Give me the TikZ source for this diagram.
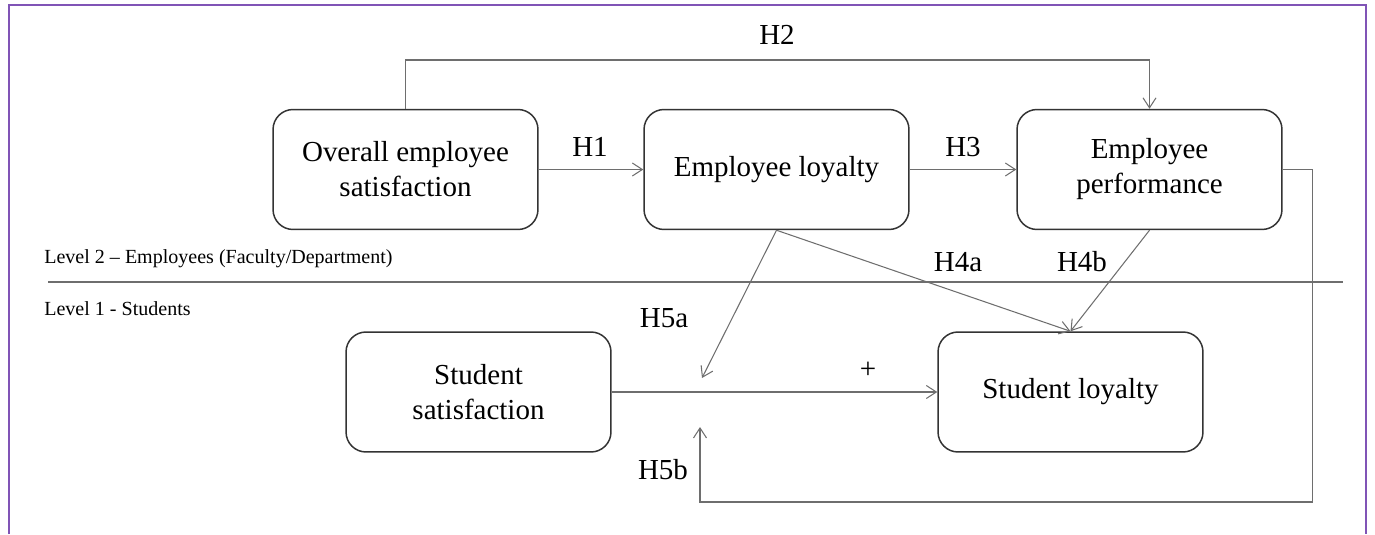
\documentclass[tikz,border=0pt]{standalone}
\usepackage{fontspec}
\setmainfont{Liberation Serif}
\usetikzlibrary{arrows.meta}

\definecolor{framepurple}{RGB}{128,84,182}
\definecolor{linegray}{RGB}{110,110,110}

\begin{document}
\begin{tikzpicture}[x=0.02cm,y=-0.02cm,>={Straight Barb[length=2mm,width=2.6mm]}]
  \tikzset{
    construct/.style={draw=black!80,line width=0.85pt,rounded corners=0.4cm,
      minimum width=5.3cm,minimum height=2.4cm,align=center,
      font=\fontsize{16.5}{19.9}\selectfont},
    conn/.style={draw=linegray,line width=0.6pt},
    hyp/.style={font=\fontsize{16.5}{19.9}\selectfont,inner sep=0pt},
    levelname/.style={anchor=base west,inner sep=0pt,font=\fontsize{11.4}{13}\selectfont}
  }
  \useasboundingbox (0,0) rectangle (1375,534);
  \draw[framepurple,line width=1.2pt] (9,534) -- (9,5) -- (1366,5) -- (1366,534);

  % constructs
  \node[construct] (overall) at (405.5,169.5) {Overall employee\\satisfaction};
  \node[construct] (employ) at (776.5,169.5) {Employee loyalty};
  \node[construct] (perf) at (1149.5,169.5) {Employee\\performance};
  \node[construct] (studsat) at (478.5,392) {Student\\satisfaction};
  \node[construct] (studloy) at (1070.5,392) {Student loyalty};

  % levels
  \draw[linegray,line width=0.6pt] (48,282) -- (1343,282);
  \node[levelname] (lvltwo) at (44,263) {Level 2 -- Employees (Faculty/Department)};
  \node[levelname] (lvlone) at (44,315) {Level 1 - Students};

  % hypotheses
  \coordinate (h2top) at (777,60);
  \coordinate (h5atip) at (702,378);
  \coordinate (h5btip) at (700,427);
  \draw[conn,->] (overall.north) |- (h2top) -| (perf.north);
  \draw[conn,->] (overall) -- (employ);
  \draw[conn,->] (employ) -- (perf);
  \draw[conn,->] (employ.south) -- (studloy.north);
  \draw[conn,->] (perf.south) -- (studloy.north);
  \draw[conn,->] (employ.south) -- (h5atip);
  \draw[conn,->] (studsat) -- (studloy);
  \draw[conn,->] (perf.east) -- ++(30,0) |- (700,502) -- (h5btip);

  \node[hyp] (lbltwo) at (777,35) {H2};
  \node[hyp] (lblone) at (590,147) {H1};
  \node[hyp] (lblthree) at (963,147) {H3};
  \node[hyp] (lblfoura) at (958,262) {H4a};
  \node[hyp] (lblfourb) at (1082,262) {H4b};
  \node[hyp] (lblfivea) at (664,318) {H5a};
  \node[hyp] (lblfiveb) at (663,470) {H5b};
  \node[hyp] (plus) at (868,370) {+};
\end{tikzpicture}
\end{document}
